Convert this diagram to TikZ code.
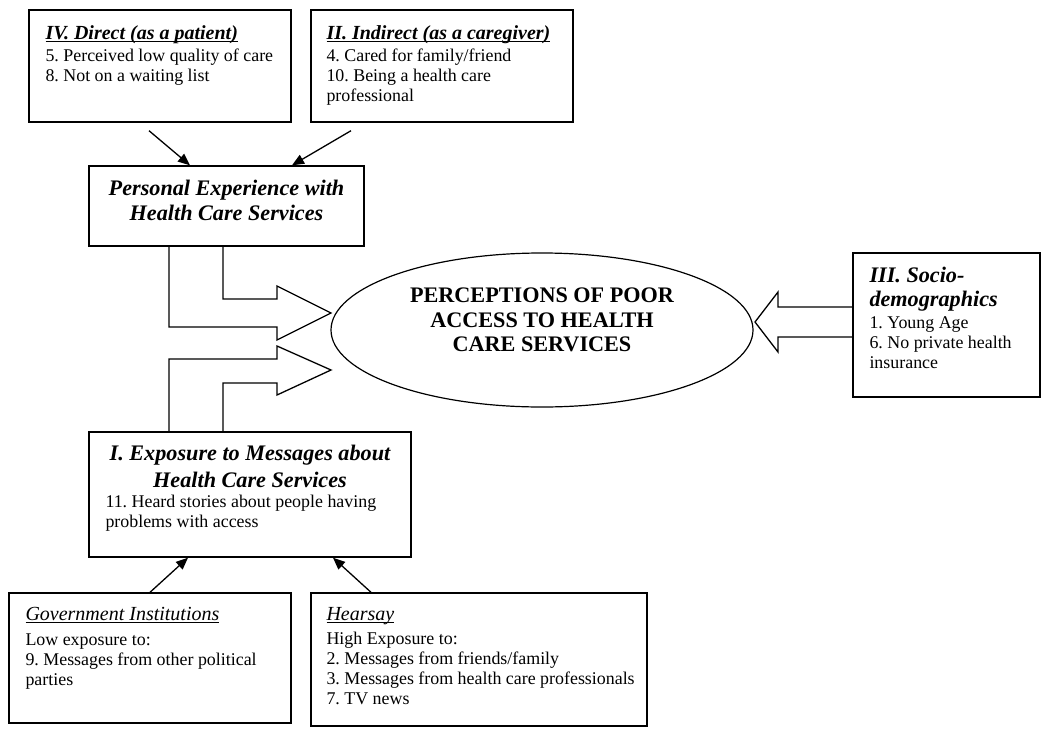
\documentclass[tikz,border=0pt]{standalone}
\usepackage{fontspec}
\setmainfont{Liberation Serif}
\usetikzlibrary{positioning}
\usetikzlibrary{shapes.geometric}
\usetikzlibrary{arrows.meta}

\newcommand{\bodyfont}{\fontsize{17.9}{20}\selectfont}
\newcommand{\headfont}{\fontsize{20}{22}\selectfont\bfseries\itshape}
\newcommand{\subfont}{\fontsize{20}{22}\selectfont\itshape}
\newcommand{\titlefont}{\fontsize{22.2}{24.5}\selectfont\bfseries\itshape}
\newcommand{\percfont}{\fontsize{22.2}{24.5}\selectfont\bfseries}
\newcommand{\ulined}[1]{\setbox0=\hbox{#1}\rlap{\rule[-2.5pt]{\wd0}{1.1pt}}\box0}
\lineskiplimit=-100pt
\frenchspacing

\begin{document}
\begin{tikzpicture}[x=1pt, y=-1pt]
\tikzstyle{boxnode}=[draw=black, line width=1.4pt, inner sep=0pt, fill=none]
\tikzstyle{textnode}=[inner sep=0pt, align=left, font=\bodyfont, text=black]
\tikzstyle{titlenode}=[inner sep=0pt, align=center, font=\titlefont, text=black]
\tikzstyle{link}=[-{Triangle[length=12pt,width=10pt]}, line width=1.3pt]
\tikzstyle{blockarrow}=[line width=1.3pt, line join=miter]

\useasboundingbox (0,0) rectangle (1043,728);

% experience boxes
\node (dir) at (160,66) [boxnode, minimum width=262pt, minimum height=112pt] {};
\node (ind) at (442,66) [boxnode, minimum width=262pt, minimum height=112pt] {};
\node (pers) at (226.5,206) [boxnode, minimum width=275pt, minimum height=80pt] {};

\node (dirT) at (dir.north west) [below right=16pt and 17pt, textnode] {{\headfont\ulined{IV. Direct (as a patient)}}\\[2pt]5. Perceived low quality of care\\8. Not on a waiting list};
\node (indT) at (ind.north west) [below right=16pt and 16pt, textnode] {{\headfont\ulined{II. Indirect (as a caregiver)}}\\[2pt]4. Cared for family/friend\\10. Being a health care\\professional};
\node (persT) at (pers.north) [below=15pt, titlenode] {Personal Experience with\\Health Care Services};

\draw [link] ([xshift=-11pt, yshift=-8pt]dir.south) -- ([xshift=-36.5pt]pers.north);
\draw [link] ([xshift=-91pt, yshift=-8pt]ind.south) -- ([xshift=65.5pt]pers.north);

% centre
\node (perc) at (542,330) [ellipse, draw=black, line width=1.2pt, minimum width=422pt, minimum height=154pt, inner sep=0pt] {};
\node (percT) at (perc.center) [yshift=10pt, inner sep=0pt, align=center, font=\percfont] {PERCEPTIONS OF POOR\\ACCESS TO HEALTH\\CARE SERVICES};

\node (soc) at (946.5,325) [boxnode, minimum width=187pt, minimum height=144pt] {};
\node (socT) at (soc.north west) [below right=15pt and 17pt, textnode] {{\titlefont III. Socio-}\\[4pt]{\titlefont demographics}\\[2pt]1. Young Age\\6. No private health\\insurance};

% block arrows
\draw [blockarrow] (169,246) -- (223,246) -- (223,299) -- (277,299) -- (277,286) -- (331,313) -- (277,340) -- (277,327) -- (169,327) -- cycle;
\draw [blockarrow] (223,432) -- (223,383) -- (277,383) -- (277,395) -- (331,370) -- (277,346) -- (277,359) -- (169,359) -- (169,432) -- cycle;
\draw [blockarrow] (853,307) -- (778,307) -- (778,292) -- (755,322) -- (778,352) -- (778,337) -- (853,337) -- cycle;

% exposure
\node (expo) at (250,494.5) [boxnode, minimum width=322pt, minimum height=125pt] {};
\node (expoT) at (expo.north) [below=14pt, titlenode] {I. Exposure to Messages about\\[2.5pt]Health Care Services};
\node (expoB) at (expo.north west) [below right=64pt and 17pt, textnode] {11. Heard stories about people having\\problems with access};

\node (gov) at (150,658) [boxnode, minimum width=282pt, minimum height=130pt] {};
\node (hear) at (479,659.5) [boxnode, minimum width=336pt, minimum height=133pt] {};
\node (govT) at (gov.north west) [below right=15pt and 17pt, textnode] {{\subfont\ulined{Government Institutions}}\\[5pt]Low exposure to:\\9. Messages from other political\\parties};
\node (hearT) at (hear.north west) [below right=15pt and 16pt, textnode] {{\subfont\ulined{Hearsay}}\\[4pt]High Exposure to:\\2. Messages from friends/family\\3. Messages from health care professionals\\7. TV news};

\draw [link] (gov.north) -- ([xshift=-62pt]expo.south);
\draw [link] ([xshift=-108pt]hear.north) -- ([xshift=83pt]expo.south);
\end{tikzpicture}
\end{document}
